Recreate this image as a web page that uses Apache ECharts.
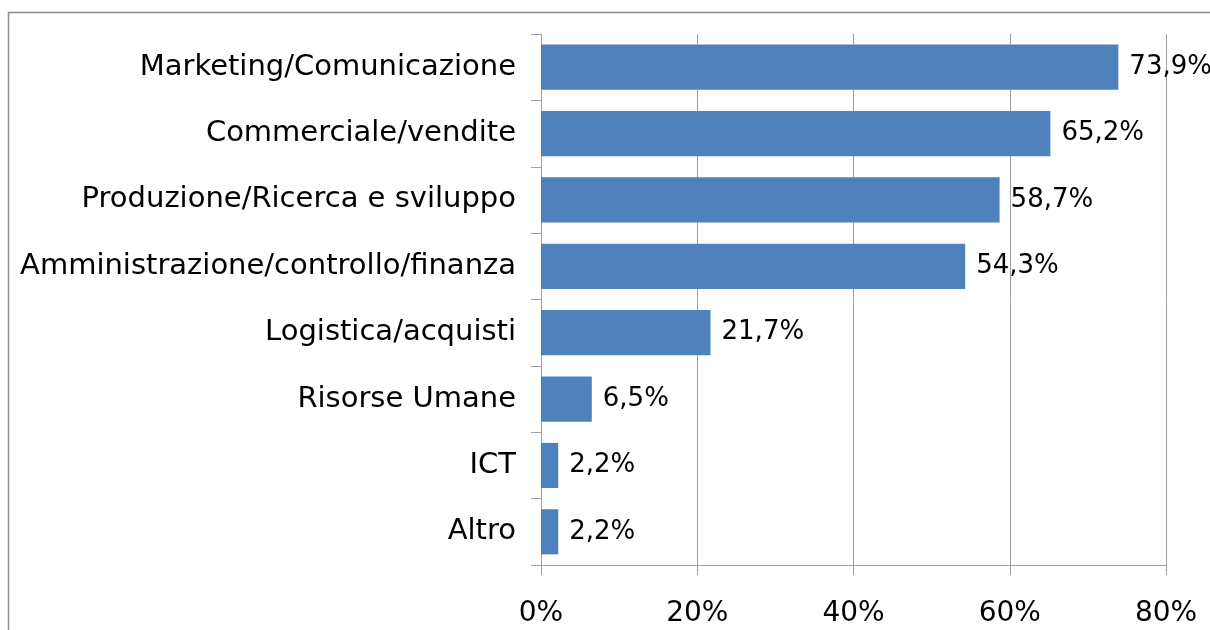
<!DOCTYPE html>
<html>
<head>
<meta charset="utf-8">
<script src="https://cdn.jsdelivr.net/npm/echarts@6/dist/echarts.min.js"></script>
<style>
  html, body { margin: 0; padding: 0; background: #fff; }
  #chart { width: 1210px; height: 630px; }
</style>
</head>
<body>
<div id="chart"></div>
<script>
// categorie (dall'alto in basso)
var categories = [
  'Marketing/Comunicazione',
  'Commerciale/vendite',
  'Produzione/Ricerca e sviluppo',
  'Amministrazione/controllo/finanza',
  'Logistica/acquisti',
  'Risorse Umane',
  'ICT',
  'Altro'
]
var values = [73.9, 65.2, 58.7, 54.3, 21.7, 6.5, 2.2, 2.2]
var xTicks = [0, 20, 40, 60, 80]

var fontFamily = '"DejaVu Sans", sans-serif'
var gray = '#a0a0a0'

var chart = echarts.init(document.getElementById('chart'))
chart.setOption({
  animation: false,
  graphic: [{
    type: 'rect',
    shape: { x: 8.5, y: 12.5, width: 1300, height: 700 },
    style: { fill: 'none', stroke: '#8c8c8c', lineWidth: 1.5 }
  }],
  grid: {
    left: 541,
    right: 44,
    top: 34,
    bottom: 65
  },
  xAxis: {
    type: 'value',
    min: xTicks[0],
    max: xTicks[xTicks.length - 1],
    interval: 20,
    axisLine: { show: true, lineStyle: { color: gray, width: 1 } },
    axisTick: { show: true, length: 10, lineStyle: { color: gray } },
    splitLine: { show: true, lineStyle: { color: gray, width: 1 } },
    axisLabel: {
      margin: 35,
      color: '#000',
      fontSize: 28,
      fontFamily: fontFamily,
      formatter: function (v) { return v + '%' }
    }
  },
  yAxis: {
    type: 'category',
    inverse: true,
    data: categories,
    axisLine: { show: true, lineStyle: { color: gray, width: 1 } },
    axisTick: { show: true, length: 10, lineStyle: { color: gray } },
    axisLabel: {
      margin: 25,
      color: '#000',
      fontSize: 29,
      fontFamily: fontFamily
    }
  },
  series: [{
    type: 'bar',
    data: values,
    barCategoryGap: '32%',
    itemStyle: { color: '#4f81bd' },
    label: {
      show: true,
      position: 'right',
      distance: 11,
      color: '#000',
      fontSize: 26,
      fontFamily: fontFamily,
      formatter: function (p) { return p.value.toFixed(1).replace('.', ',') + '%' }
    }
  }]
})
</script>
</body>
</html>
